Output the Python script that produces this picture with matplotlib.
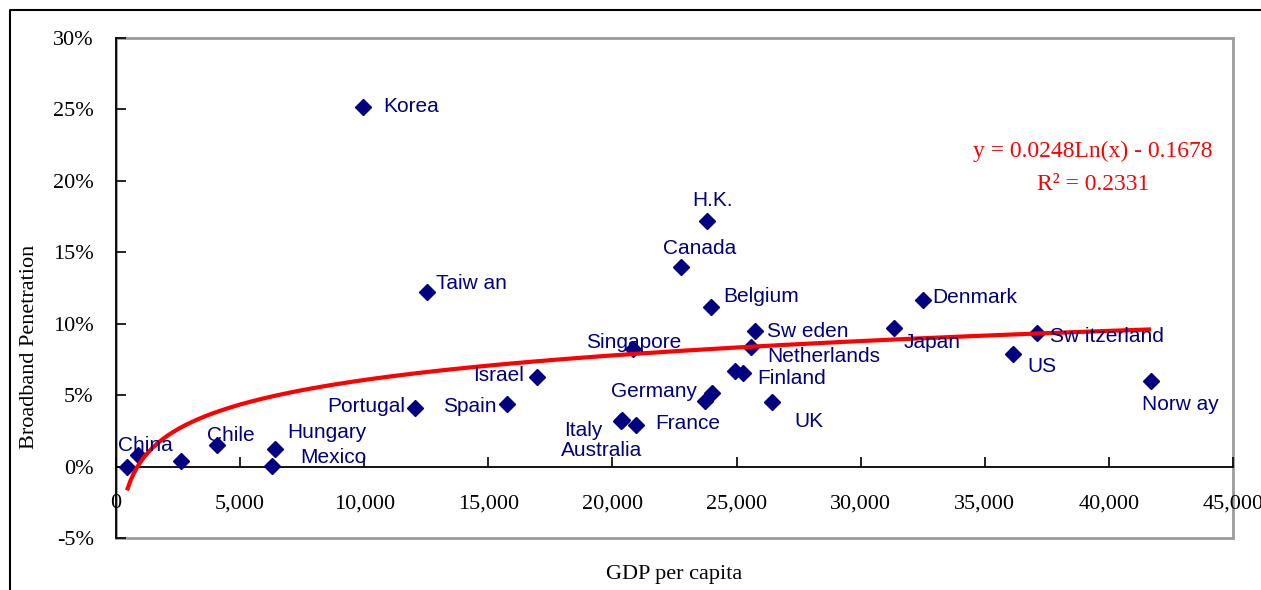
import numpy as np
import matplotlib
matplotlib.use("Agg")
import matplotlib.pyplot as plt
from matplotlib.lines import Line2D
from matplotlib.patches import Rectangle
from matplotlib.ticker import FuncFormatter, MultipleLocator

# GDP per capita (US$) and broadband penetration (%)
labels = ["", "China", "", "Chile", "Mexico", "Hungary", "Korea", "Portugal",
          "Taiw an", "Spain", "Israel", "Italy", "Australia", "France",
          "Singapore", "Canada", "Germany", "", "H.K.", "Belgium", "",
          "Finland", "Netherlands", "Sw eden", "UK", "Japan", "Denmark",
          "US", "Sw itzerland", "Norw ay"]
gdp = [443, 886, 2620, 4070, 6280, 6400, 9950, 12050,
       12530, 15750, 16960, 20350, 20400, 20950,
       20830, 22760, 23730, 24010, 23810, 23970, 24940,
       25260, 25580, 25740, 26430, 31340, 32510,
       36140, 37100, 41700]
penetration = [0.0, 0.8, 0.4, 1.5, 0.05, 1.2, 25.2, 4.1,
               12.2, 4.4, 6.3, 3.2, 3.25, 2.9,
               8.2, 14.0, 4.6, 5.15, 17.2, 11.2, 6.7,
               6.55, 8.4, 9.5, 4.5, 9.7, 11.65,
               7.9, 9.35, 6.0]

# logarithmic trend: y = a*ln(x) + b
trend_a = 0.0248
trend_b = -0.1678
trend_r2 = 0.2331

# where each name sits relative to its marker (pixels) and its alignment
label_place = {
    "China": (7, 10, "center"),
    "Chile": (14, 10, "center"),
    "Mexico": (28, 8, "left"),
    "Hungary": (12, 17, "left"),
    "Korea": (20, 0, "left"),
    "Portugal": (-10, 1, "right"),
    "Taiw an": (9, 9, "left"),
    "Spain": (-10, -3, "right"),
    "Israel": (-13, 1, "right"),
    "Italy": (-38, -10, "center"),
    "Australia": (-21, -30, "center"),
    "France": (19, 2, "left"),
    "Singapore": (1, 7, "center"),
    "Canada": (19, 18, "center"),
    "Germany": (-8, 9, "right"),
    "H.K.": (6, 20, "center"),
    "Belgium": (12, 10, "left"),
    "Finland": (14, -5, "left"),
    "Netherlands": (16, -10, "left"),
    "Sw eden": (12, -1, "left"),
    "UK": (37, -19, "center"),
    "Japan": (10, -15, "left"),
    "Denmark": (9, 3, "left"),
    "US": (14, -13, "left"),
    "Sw itzerland": (13, -4, "left"),
    "Norw ay": (29, -24, "center"),
}

navy = "#000080"
serif = "Liberation Serif"
sans = "Liberation Sans"

W, H = 1261, 590
fig = plt.figure(figsize=(W / 100, H / 100), dpi=100)
ax = fig.add_axes([116 / W, 1 - 538 / H, (1233 - 116) / W, 500 / H])

ax.set_xlim(0, 45000)
ax.set_ylim(-5, 30)

# plot-area border in grey, value axis in black
ax.add_patch(Rectangle((0, 0), 1, 1, transform=ax.transAxes, fill=False,
                       edgecolor="#9a9a9a", linewidth=2, clip_on=False))
for side in ["top", "right"]:
    ax.spines[side].set_visible(False)
ax.spines["left"].set_color("black")
ax.spines["left"].set_linewidth(1.3)
ax.spines["bottom"].set_position(("data", 0))
ax.spines["bottom"].set_color("black")
ax.spines["bottom"].set_linewidth(1.3)

ax.xaxis.set_major_locator(MultipleLocator(5000))
ax.yaxis.set_major_locator(MultipleLocator(5))
ax.xaxis.set_major_formatter(FuncFormatter(lambda v, p: f"{v:,.0f}"))
ax.yaxis.set_major_formatter(FuncFormatter(lambda v, p: f"{v:.0f}%"))
ax.tick_params(axis="x", direction="in", length=7, width=1.2, pad=20)
ax.tick_params(axis="y", direction="in", length=7, width=1.2, pad=16)
for t in ax.get_xticklabels() + ax.get_yticklabels():
    t.set_fontfamily(serif)
    t.set_fontsize(16)

ax.plot(gdp, penetration, linestyle="none", marker="D", markersize=8.5,
        color=navy, zorder=3)

xs = np.linspace(min(gdp), max(gdp), 300)
ax.plot(xs, (trend_a * np.log(xs) + trend_b) * 100, color="red",
        linewidth=3, zorder=4, solid_capstyle="butt")

for name, x, y in zip(labels, gdp, penetration):
    if not name:
        continue
    dx, dy, ha = label_place[name]
    ax.annotate(name, (x, y), xytext=(dx, dy), textcoords="offset pixels",
                ha=ha, va="center", color=navy, fontsize=15,
                fontfamily=sans, zorder=5)

ax.text(1093 / W, 1 - 151 / H,
        f"y = {trend_a:.4f}Ln(x) - {abs(trend_b):.4f}",
        transform=fig.transFigure, ha="center", va="center", color="red",
        fontsize=17, fontfamily=serif)
ax.text(1093 / W, 1 - 184 / H, f"R\u00b2 = {trend_r2:.4f}",
        transform=fig.transFigure, ha="center", va="center", color="red",
        fontsize=17, fontfamily=serif)

fig.text(674 / W, 1 - 575 / H, "GDP per capita", ha="center", va="center",
         fontsize=16, fontfamily=serif)
fig.text(30 / W, 1 - 347 / H, "Broadband Penetration", ha="center",
         va="center", rotation=90, fontsize=16, fontfamily=serif)

# outer chart frame
fig.add_artist(Line2D([10 / W, 10 / W, 1], [0, 1 - 10 / H, 1 - 10 / H],
                      transform=fig.transFigure, color="black", linewidth=1.5))

fig.savefig("out.png", dpi=100)
